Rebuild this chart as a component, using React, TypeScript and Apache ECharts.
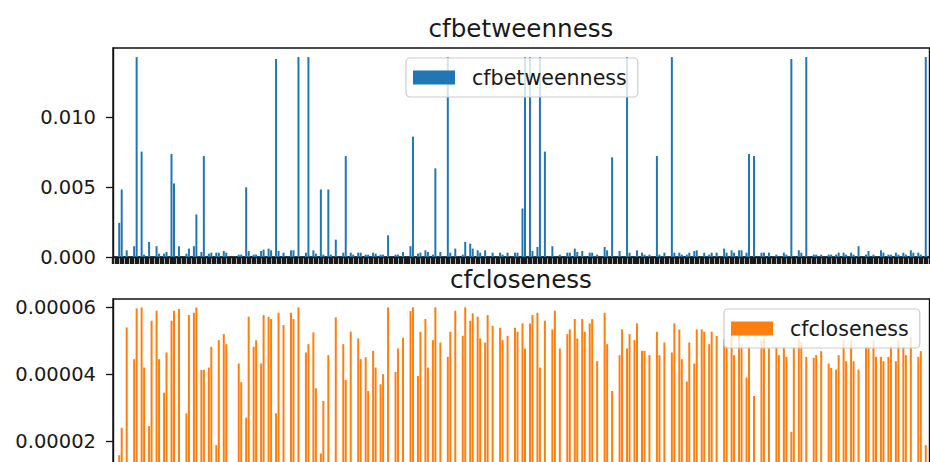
import React, { useEffect, useRef } from 'react';
import * as echarts from 'echarts';

// Each visible group on the x axis holds up to two adjacent bars (first, second).
const betweennessFirst: (number | null)[] = [
  2.44e-3, 0.48e-3, 0.77e-3, 7.54e-3, 1.08e-3, 0.77e-3, 0.24e-3, 7.37e-3, 0.77e-3, 0.24e-3,
  0.77e-3, 0.36e-3, 0.24e-3, 0.31e-3, 0.43e-3, null, 0.17e-3, 4.98e-3, 0.17e-3, 0.43e-3,
  0.6e-3, 14.16e-3, 0.31e-3, 0.48e-3, 14.3e-3, 0.31e-3, 0.48e-3, 4.83e-3, 4.83e-3, 1.24e-3,
  0.31e-3, 0.31e-3, 0.31e-3, 0.17e-3, 0.31e-3, 0.17e-3, 1.55e-3, 0.17e-3, 0.36e-3, 0.77e-3,
  0.24e-3, 0.48e-3, 0.17e-3, 0.36e-3, 14.3e-3, 0.6e-3, 0.17e-3, 0.96e-3, 0.48e-3, 0.48e-3,
  0.31e-3, 0.31e-3, 0.31e-3, 0.31e-3, 3.47e-3, 14.3e-3, 0.72e-3, 7.54e-3, 0.77e-3, 0.17e-3,
  0.31e-3, 0.6e-3, 0.43e-3, 0.31e-3, 0.17e-3, 0.72e-3, 7.13e-3, 0.43e-3, 14.3e-3, null,
  0.31e-3, 0.17e-3, 7.22e-3, 0.31e-3, 14.3e-3, 0.31e-3, 0.17e-3, 0.43e-3, null, 0.17e-3,
  0.31e-3, 0.6e-3, 0.48e-3, 0.48e-3, 0.31e-3, 7.22e-3, 0.31e-3, 0.31e-3, 0.17e-3, 0.31e-3,
  14.16e-3, 0.48e-3, 14.3e-3, 0.17e-3, 0.17e-3, 0.17e-3, 0.17e-3, 0.31e-3, 0.31e-3, 0.77e-3,
  0.17e-3, 0.17e-3, 0.48e-3, 0.17e-3, 0.31e-3, 0.31e-3, 0.48e-3, 0.31e-3, 14.3e-3,
];
const betweennessSecond: (number | null)[] = [
  4.83e-3, null, 14.3e-3, 0.17e-3, null, 0.24e-3, 0.36e-3, 5.26e-3, null, 0.6e-3,
  3.04e-3, 7.22e-3, 0.31e-3, 0.31e-3, 0.31e-3, null, 0.17e-3, 0.43e-3, 0.17e-3, 0.53e-3,
  0.48e-3, 0.43e-3, null, 0.48e-3, null, 14.3e-3, 0.24e-3, 0.17e-3, 0.17e-3, null,
  7.22e-3, 0.17e-3, 0.31e-3, 0.17e-3, 0.24e-3, 0.17e-3, null, 0.17e-3, null, 8.61e-3,
  0.31e-3, 0.36e-3, 6.34e-3, null, 0.31e-3, null, 1.08e-3, 0.6e-3, 0.31e-3, null,
  null, 0.17e-3, null, 0.31e-3, 14.3e-3, 0.43e-3, 14.3e-3, null, null, null,
  0.31e-3, 0.36e-3, null, 0.31e-3, null, 0.48e-3, null, null, 0.31e-3, 0.48e-3,
  0.17e-3, null, 0.17e-3, null, 0.31e-3, 0.17e-3, 0.31e-3, 0.48e-3, 0.31e-3, 0.31e-3,
  null, 0.31e-3, 0.31e-3, 0.48e-3, 7.37e-3, null, 0.31e-3, null, null, 0.17e-3,
  null, 0.31e-3, null, 0.17e-3, null, 0.17e-3, 0.31e-3, 0.17e-3, 0.17e-3, null,
  0.43e-3, null, 0.31e-3, 0.17e-3, 0.17e-3, 0.17e-3, 0.31e-3, 0.17e-3, null,
];
const closenessFirst: (number | null)[] = [
  1.58e-5, 5.4e-5, 4.45e-5, 6.0e-5, 2.45e-5, 5.9e-5, 3.45e-5, 5.6e-5, 5.95e-5, 2.83e-5,
  5.84e-5, 4.13e-5, 4.2e-5, 1.88e-5, 5.2e-5, null, 4.32e-5, 2.7e-5, 4.82e-5, 4.32e-5,
  5.72e-5, 2.83e-5, 5.47e-5, 5.84e-5, 6.0e-5, 4.65e-5, 5.25e-5, 1.63e-5, 4.57e-5, 5.7e-5,
  4.9e-5, 5.27e-5, 5.07e-5, 4.51e-5, 4.7e-5, 3.7e-5, 6.0e-5, 4.07e-5, 5.09e-5, 5.89e-5,
  3.95e-5, 5.65e-5, 5.02e-5, 4.95e-5, 4.52e-5, 5.9e-5, 5.15e-5, 5.6e-5, 5.72e-5, 4.95e-5,
  5.45e-5, 5.39e-5, 5.15e-5, 5.39e-5, 5.52e-5, 5.52e-5, 5.84e-5, 5.6e-5, 5.34e-5, 4.77e-5,
  5.2e-5, 5.65e-5, 5.65e-5, 5.52e-5, 4.39e-5, 5.84e-5, 3.5e-5, 4.57e-5, 4.77e-5, 5.02e-5,
  4.7e-5, 4.57e-5, 5.27e-5, 4.95e-5, 4.65e-5, 5.34e-5, 3.78e-5, 4.32e-5, 5.34e-5, 4.9e-5,
  5.15e-5, 5.05e-5, 5.2e-5, 5.19e-5, 3.9e-5, 3.35e-5, 5.02e-5, 4.77e-5, 4.82e-5, 4.82e-5,
  2.28e-5, 5.07e-5, 4.52e-5, 4.49e-5, 4.69e-5, 4.32e-5, 4.14e-5, 5.02e-5, 5.02e-5, 4.14e-5,
  4.82e-5, 5.02e-5, 4.52e-5, 4.52e-5, 4.39e-5, 4.82e-5, 5.12e-5, 4.52e-5, 1.88e-5,
];
const closenessSecond: (number | null)[] = [
  2.4e-5, null, 5.97e-5, 4.2e-5, 5.6e-5, 4.45e-5, 4.65e-5, 5.9e-5, null, 5.77e-5,
  6.0e-5, 4.13e-5, 4.82e-5, 5.02e-5, 4.9e-5, null, 3.76e-5, 5.72e-5, 5.02e-5, 5.77e-5,
  5.65e-5, 5.84e-5, null, 5.65e-5, null, 4.9e-5, 3.58e-5, 3.2e-5, null, null,
  3.83e-5, null, 4.45e-5, 3.5e-5, 4.2e-5, 4.0e-5, null, 4.77e-5, null, 6.0e-5,
  5.27e-5, 4.2e-5, 6.0e-5, null, 5.27e-5, null, 6.0e-5, 5.82e-5, 5.07e-5, 5.77e-5,
  null, 5.02e-5, null, 5.27e-5, 4.77e-5, 5.77e-5, 4.2e-5, null, 5.9e-5, null,
  5.34e-5, 5.07e-5, 5.27e-5, 5.65e-5, null, 4.9e-5, null, 5.34e-5, 5.2e-5, 5.52e-5,
  4.7e-5, null, 4.57e-5, null, 5.52e-5, 4.45e-5, 4.95e-5, 5.34e-5, 5.27e-5, 5.27e-5,
  null, 4.82e-5, 4.57e-5, 4.9e-5, 4.82e-5, null, 5.07e-5, null, 4.57e-5, 4.52e-5,
  4.82e-5, 4.97e-5, null, 4.57e-5, null, 4.19e-5, 4.57e-5, 4.39e-5, 4.39e-5, null,
  4.82e-5, 4.52e-5, 4.39e-5, 4.82e-5, 5.02e-5, 4.57e-5, null, 4.69e-5, null,
];

const topTicks = [0, 0.005, 0.01];
const bottomTicks = [0.00002, 0.00004, 0.00006];
const seriesNames = ['cfbetweenness', 'cfcloseness'];
const colors = ['#1f77b4', '#ff7f0e'];

// Lay the groups out on a category axis: two empty leading slots, then
// [first, second, empty] per group (no trailing empty slot after the last).
function toSlots(first: (number | null)[], second: (number | null)[]) {
  const out: (number | null)[] = [null, null];
  for (let k = 0; k < first.length; k++) {
    out.push(first[k], second[k]);
    if (k < first.length - 1) out.push(null);
  }
  return out;
}

export default function App() {
  const ref = useRef<HTMLDivElement>(null);
  useEffect(() => {
    if (!ref.current) return;
    const chart = echarts.init(ref.current, undefined, { renderer: 'svg' });
    const topSlots = toSlots(betweennessFirst, betweennessSecond);
    const bottomSlots = toSlots(closenessFirst, closenessSecond);
    const cats = topSlots.map((_, i) => String(i));
    const font = 'DejaVu Sans';
    const textColor = '#1a1a1a';
    const gridBase = { left: 113, width: 816.5, height: 209, show: true, borderColor: '#111', borderWidth: 1.4, backgroundColor: 'transparent' };
    const xAxisFor = (i: number) => ({
      type: 'category',
      gridIndex: i,
      data: cats,
      axisLine: { show: true, lineStyle: { color: '#111', width: 1.4 } },
      axisTick: { show: true, interval: 0, length: 7, lineStyle: { color: '#1a1a1a', width: 2.4 } },
      axisLabel: { show: false },
      splitLine: { show: false },
    });
    const legendBase = {
      orient: 'horizontal',
      icon: 'rect',
      itemWidth: 42,
      itemHeight: 14,
      selectedMode: false,
      backgroundColor: 'rgba(255,255,255,0.8)',
      borderColor: '#cccccc',
      borderWidth: 1.2,
      borderRadius: 4,
      padding: [9, 11, 9, 7],
      textStyle: { fontFamily: font, fontSize: 20.6, color: textColor, padding: [0, 0, 0, 12] },
    };
    chart.setOption({
      animation: false,
      grid: [
        { ...gridBase, top: 48 },
        { ...gridBase, top: 299 },
      ],
      xAxis: [xAxisFor(0), xAxisFor(1)],
      yAxis: [
        {
          type: 'value', gridIndex: 0, min: 0, max: 0.01495, interval: 0.005,
          axisLine: { show: true, lineStyle: { color: '#111', width: 1.4 } },
          axisTick: { show: true, length: 7, customValues: topTicks, lineStyle: { color: '#111', width: 1.3 } },
          axisLabel: { margin: 17, fontFamily: font, fontSize: 19.5, color: textColor, customValues: topTicks, formatter: (v: number) => v.toFixed(3) },
          splitLine: { show: false },
        },
        {
          type: 'value', gridIndex: 1, min: 0, max: 0.0000625, interval: 0.00002,
          axisLine: { show: true, lineStyle: { color: '#111', width: 1.4 } },
          axisTick: { show: true, length: 7, customValues: bottomTicks, lineStyle: { color: '#111', width: 1.3 } },
          axisLabel: { margin: 17, fontFamily: font, fontSize: 19.5, color: textColor, customValues: bottomTicks, formatter: (v: number) => v.toFixed(5) },
          splitLine: { show: false },
        },
      ],
      legend: [
        { ...legendBase, data: [seriesNames[0]], left: 406, top: 58 },
        { ...legendBase, data: [seriesNames[1]], left: 724, top: 309 },
      ],
      series: [
        { name: seriesNames[0], type: 'bar', xAxisIndex: 0, yAxisIndex: 0, data: topSlots, barWidth: 2, itemStyle: { color: colors[0] } },
        { name: seriesNames[1], type: 'bar', xAxisIndex: 1, yAxisIndex: 1, data: bottomSlots, barWidth: 2, itemStyle: { color: colors[1] } },
      ],
      graphic: [
        { type: 'text', x: 521, y: 28, style: { text: seriesNames[0], fill: textColor, font: `24.6px "${font}"`, textAlign: 'center', textVerticalAlign: 'middle' } },
        { type: 'text', x: 521, y: 279, style: { text: seriesNames[1], fill: textColor, font: `24.6px "${font}"`, textAlign: 'center', textVerticalAlign: 'middle' } },
      ],
    });
    return () => chart.dispose();
  }, []);
  return (
    <div style={{ position: 'fixed', left: 0, top: 0, width: 930, height: 462, overflow: 'hidden', background: '#fff' }}>
      <div ref={ref} style={{ width: 930, height: 560 }} />
    </div>
  );
}
